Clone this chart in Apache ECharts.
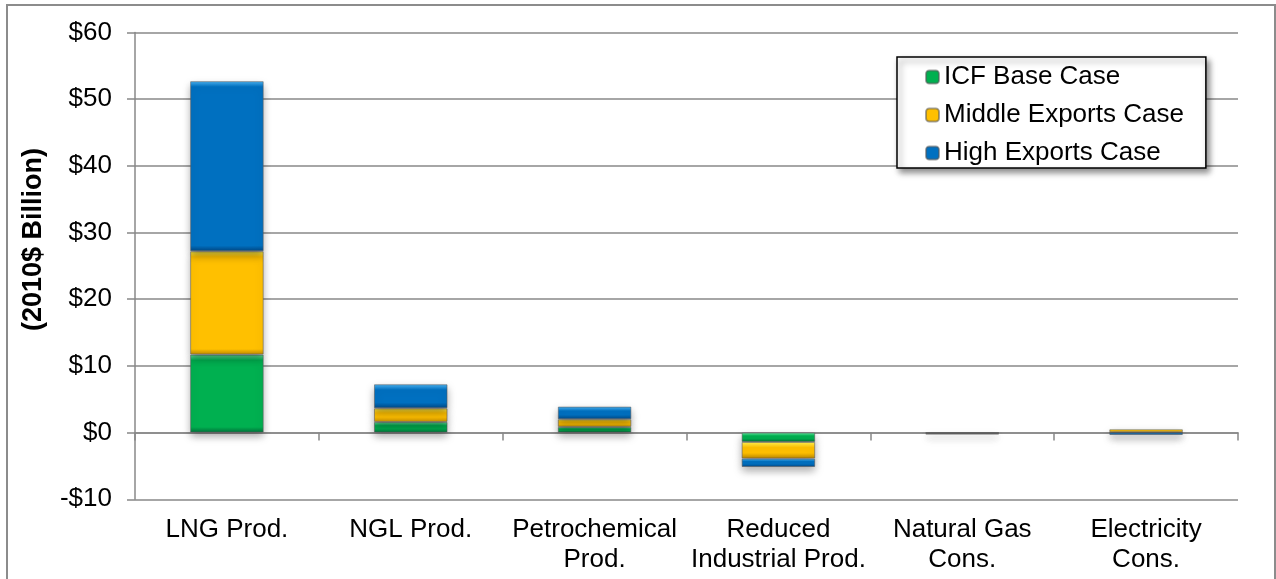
<!DOCTYPE html>
<html>
<head>
<meta charset="utf-8">
<script src="https://cdn.jsdelivr.net/npm/echarts@6/dist/echarts.min.js"></script>
<style>
html,body{margin:0;padding:0;background:#fff;}
#chart{width:1276px;height:579px;}
</style>
</head>
<body>
<div id="chart"></div>
<script>
const categories = ['LNG Prod.', 'NGL Prod.', 'Petrochemical\nProd.', 'Reduced\nIndustrial Prod.', 'Natural Gas\nCons.', 'Electricity\nCons.'];
const seriesNames = ['ICF Base Case', 'Middle Exports Case', 'High Exports Case'];
const icfBase = [11.7, 1.6, 0.85, -1.4, -0.05, 0.05];
const middleExports = [15.5, 2.05, 1.15, -2.5, -0.1, 0.45];
const highExports = [25.5, 3.6, 1.9, -1.25, -0.1, -0.35];
const yMin = -10, yMax = 60, yStep = 10;

const FONT = 'Arial, "Liberation Sans", sans-serif';
const palettes = [
  {light: '#6af0a6', base: '#00b050', dark: '#00703a'},
  {light: '#fff250', base: '#ffc000', dark: '#bf8a00'},
  {light: '#4ab4f4', base: '#0070c0', dark: '#004682'}
];

function bevel(p, v) {
  const f = Math.min(0.35, 0.85 / Math.max(Math.abs(v), 0.01));
  return {
    type: 'linear', x: 0, y: 0, x2: 0, y2: 1,
    colorStops: [
      {offset: 0, color: p.light},
      {offset: f, color: p.base},
      {offset: 1 - f, color: p.base},
      {offset: 1, color: p.dark}
    ]
  };
}

function makeSeries(name, values, p) {
  return {
    name: name,
    type: 'bar',
    stack: 'total',
    xAxisIndex: 0,
    barWidth: '40%',
    itemStyle: {
      color: bevel(p, 10),
      borderColor: 'rgba(90,90,90,0.55)',
      borderWidth: 1,
      shadowBlur: 8,
      shadowOffsetY: 4,
      shadowColor: 'rgba(0,0,0,0.35)'
    },
    data: values.map(v => ({value: v, itemStyle: {color: bevel(p, v)}}))
  };
}

const chart = echarts.init(document.getElementById('chart'));
const axisColor = '#888888';
chart.setOption({
  animation: false,
  textStyle: {fontFamily: FONT},
  grid: {left: 135, right: 38, top: 32.5, bottom: 79.7},
  legend: {
    orient: 'vertical',
    left: 897, top: 57,
    data: seriesNames,
    itemWidth: 13, itemHeight: 13,
    itemGap: 12,
    padding: [7, 22, 2, 28],
    backgroundColor: '#fff',
    borderColor: '#000',
    borderWidth: 1.5,
    borderRadius: 0,
    shadowBlur: 6,
    shadowOffsetX: 3,
    shadowOffsetY: 4,
    shadowColor: 'rgba(0,0,0,0.45)',
    textStyle: {fontSize: 26, lineHeight: 26, color: '#000', fontFamily: FONT}
  },
  xAxis: [
    {
      type: 'category', data: categories, position: 'bottom',
      axisLine: {show: false, onZero: false},
      axisTick: {show: false},
      splitLine: {show: false},
      axisLabel: {interval: 0, fontSize: 26, lineHeight: 30, margin: 16, color: '#000', fontFamily: FONT}
    },
    {
      type: 'category', data: categories, position: 'top',
      axisLine: {show: true, onZero: true, lineStyle: {color: axisColor, width: 1.5}},
      axisTick: {show: true, inside: true, length: 8, lineStyle: {color: axisColor, width: 1.5}},
      axisLabel: {show: false},
      splitLine: {show: false}
    }
  ],
  yAxis: {
    type: 'value', min: yMin, max: yMax, interval: yStep,
    axisLine: {show: true, lineStyle: {color: axisColor, width: 1.5}},
    axisTick: {show: true, length: 8, lineStyle: {color: axisColor, width: 1.5}},
    splitLine: {show: true, lineStyle: {color: axisColor, width: 1.5}},
    axisLabel: {
      fontSize: 26, margin: 23, color: '#000', fontFamily: FONT,
      formatter: v => (v < 0 ? '-$' + Math.abs(v) : '$' + v)
    }
  },
  graphic: [
    {
      type: 'rect', silent: true, z: -10,
      shape: {x: 7, y: 5, width: 1268, height: 620},
      style: {fill: 'none', stroke: '#8c8c8c', lineWidth: 2}
    },
    {
      type: 'text', x: 34, y: 239.5, rotation: Math.PI / 2,
      style: {text: '(2010$ Billion)', font: 'bold 27px ' + FONT, fill: '#000', textAlign: 'center', textVerticalAlign: 'middle'}
    }
  ],
  series: [
    makeSeries(seriesNames[0], icfBase, palettes[0]),
    makeSeries(seriesNames[1], middleExports, palettes[1]),
    makeSeries(seriesNames[2], highExports, palettes[2])
  ]
});
</script>
</body>
</html>
